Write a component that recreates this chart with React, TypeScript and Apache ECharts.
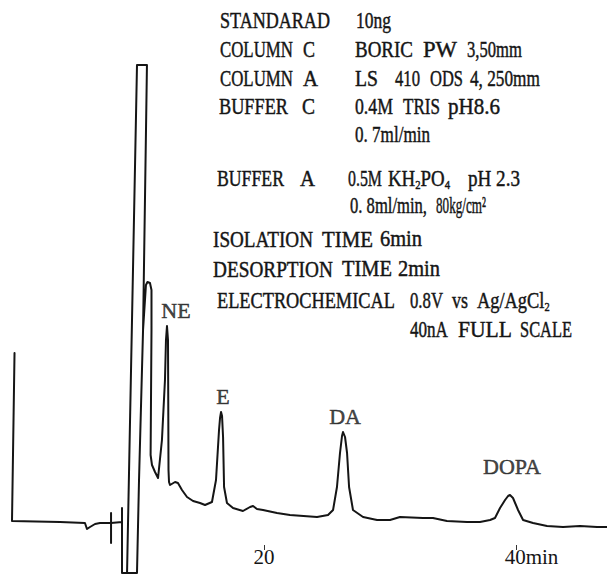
import { useEffect, useRef } from 'react';
import * as echarts from 'echarts';

// Detector trace: [retention time (min), response (chart divisions above baseline)]
const injectionAndSwitch: [number, number][] = [
  [0.2, 169], [0.0, 1], [3.81, 0], [5.79, -1], [5.95, -7], [6.19, -5], [6.59, -2],
  [6.98, -1], [7.86, -1], [7.86, 9], [7.86, -21], [7.86, -1], [8.73, 0], [8.73, 14], [8.73, -51],
];
const solventFront: [number, number][] = [
  [9.92, -51], [10.08, 42], [10.4, 192], [10.71, 457], [9.92, 457], [9.13, -51],
  [9.92, -51], [10.08, 42], [10.4, 192],
];
const shoulderAndNE: [number, number][] = [
  [10.63, 237], [10.75, 240], [10.95, 239], [11.07, 232], [11.07, 192], [11.0, 67],
  [11.11, 57], [11.35, 50], [11.59, 44], [11.9, 82], [12.14, 142], [12.22, 182],
  [12.3, 196], [12.38, 182], [12.4, 122], [12.42, 52], [12.46, 40], [12.54, 37],
  [12.94, 40], [13.17, 39], [13.49, 32], [13.89, 25], [14.37, 21], [14.92, 19],
  [15.32, 17], [15.87, 20],
];
const ePeak: [number, number][] = [
  [16.19, 42], [16.43, 92], [16.51, 104], [16.59, 110], [16.67, 106], [16.75, 85],
  [16.83, 35], [17.06, 19], [17.54, 14], [18.33, 11], [18.89, 15], [19.13, 16],
  [19.44, 13], [19.92, 12], [21.03, 9], [22.06, 7], [24.21, 5], [25.08, 7], [25.48, 12],
];
const daPeak: [number, number][] = [
  [25.79, 35], [26.03, 69], [26.19, 86], [26.27, 90], [26.43, 85], [26.59, 69],
  [26.75, 35], [27.06, 12], [27.86, 5], [28.97, 2], [30.0, 2], [30.79, 5], [32.62, 4],
  [33.41, 4], [34.52, 1], [36.11, 0], [37.14, 0], [37.94, 2], [38.33, 4],
];
const dopaPeak: [number, number][] = [
  [38.73, 14], [39.13, 22], [39.37, 26], [39.52, 27], [39.76, 24], [40.16, 12],
  [40.56, 2], [41.35, -1], [42.46, -4], [43.73, -5], [45.08, -4], [46.43, -5], [47.22, -5],
];

const peakNames = ['NE', 'E', 'DA', 'DOPA'];
const peakApex: [number, number][] = [[12.3, 196], [16.59, 110], [26.27, 90], [39.52, 27]];

const tickValues = [20, 40];
const tickLabels = ['20', '40min'];

const SERIF = '"Liberation Serif", "Times New Roman", serif';
const INK = '#151515';
const COND_SIZE = 23;

// width of a plain string at the conditions-block font size
let measureCtx: CanvasRenderingContext2D | null = null;
function textWidth(text: string): number {
  if (!measureCtx) measureCtx = document.createElement('canvas').getContext('2d');
  if (!measureCtx) return text.length * COND_SIZE * 0.5;
  measureCtx.font = `${COND_SIZE}px ${SERIF}`;
  return measureCtx.measureText(text).width;
}

// one word of the condensed conditions block, squeezed to the given width
function word(x: number, y: number, text: string, width: number | null, rich?: Record<string, any>, sx = 0.8) {
  const scaleX = width ? width / textWidth(text) : sx;
  return {
    type: 'text',
    x,
    y,
    scaleX,
    silent: true,
    style: {
      text,
      fill: INK,
      stroke: INK,
      lineWidth: 0.45,
      font: `${COND_SIZE}px ${SERIF}`,
      fontFamily: SERIF,
      fontSize: COND_SIZE,
      textAlign: 'left',
      textVerticalAlign: 'middle',
      align: 'left',
      verticalAlign: 'middle',
      rich,
    },
  };
}

const subRich = {
  s: { fontSize: 13, fontFamily: SERIF, fill: INK, verticalAlign: 'bottom', padding: [0, 0, -2, 0] },
};

export default function App() {
  const ref = useRef<HTMLDivElement>(null);

  useEffect(() => {
    const chart = echarts.init(ref.current!, null, { renderer: 'svg' });
    const trace = [
      ...injectionAndSwitch,
      ...solventFront,
      ...shoulderAndNE,
      ...ePeak,
      ...daPeak,
      ...dopaPeak,
    ];

    chart.setOption({
      animation: false,
      backgroundColor: '#ffffff',
      // baseline (response 0) sits at y = 522; the time axis runs along y = 545
      grid: { left: 12, right: 0, top: 62, bottom: 30, containLabel: false },
      xAxis: {
        type: 'value',
        min: 0,
        max: 47.22,
        position: 'bottom',
        axisLine: { show: false, onZero: false },
        splitLine: { show: false },
        axisTick: {
          show: true,
          customValues: tickValues,
          length: 5,
          lineStyle: { color: '#333', width: 1 },
        },
        axisLabel: {
          customValues: tickValues,
          margin: 1,
          color: INK,
          fontFamily: SERIF,
          fontSize: 21,
          formatter: (v: number) => {
            const label = tickLabels[tickValues.indexOf(v)] ?? '';
            const unit = label.replace(/^[0-9]+/, '');
            const num = label.slice(0, label.length - unit.length);
            return unit ? `{pad|}${num}{u|${unit}}` : num;
          },
          rich: {
            pad: { width: 31 },
            u: { fontFamily: SERIF, fontSize: 21, color: INK },
          },
        },
      },
      yAxis: {
        type: 'value',
        min: -23,
        max: 460,
        show: false,
      },
      series: [
        {
          name: 'detector',
          type: 'line',
          data: trace,
          showSymbol: false,
          symbol: 'none',
          smooth: false,
          clip: false,
          lineStyle: { color: INK, width: 2, join: 'round', cap: 'round' },
          z: 2,
        },
        {
          name: 'peaks',
          type: 'scatter',
          symbolSize: 0,
          data: peakApex.map((p, i) => ({
            value: p,
            name: peakNames[i],
            label: {
              offset: i === 0 ? [9, 0] : [2, 0],
              distance: i === 3 ? 18 : 5,
            },
          })),
          label: {
            show: true,
            position: 'top',
            formatter: (p: any) => p.name,
            color: INK,
            fontFamily: SERIF,
            fontSize: 22,
            textBorderColor: INK,
            textBorderWidth: 0.5,
          },
          silent: true,
          z: 3,
        },
      ],
      graphic: [
        word(220, 20, 'STANDARAD', 110),
        word(356, 20, '10ng', 35),

        word(220, 49, 'COLUMN', 73),
        word(303, 49, 'C', 12),
        word(355, 49, 'BORIC', 58),
        word(423, 49, 'PW', 34),
        word(467, 49, '3,50mm', 55),

        word(220, 78, 'COLUMN', 73),
        word(303, 78, 'A', 15),
        word(355, 78, 'LS', 23),
        word(395, 78, '410', 25),
        word(430, 78, 'ODS', 33),
        word(470, 78, '4, 250mm', 70),

        word(219, 106, 'BUFFER', 69),
        word(302, 106, 'C', 13),
        word(355, 106, '0.4M', 38),
        word(403, 106, 'TRIS', 37),
        word(448, 106, 'pH8.6', 52),
        word(355, 134, '0. 7ml/min', 75),

        word(217, 178, 'BUFFER', 67),
        word(300, 178, 'A', 15),
        word(348, 178, '0.5M', 34),
        word(388, 178, 'KH{s|2}PO{s|4}', null, subRich, 0.82),
        word(468, 178, 'pH 2.3', 52),
        word(350, 205, '0. 8ml/min,', 77),
        word(436, 205, '80kg/cm²', 50),

        word(213, 239, 'ISOLATION', 100),
        word(322, 239, 'TIME', 51),
        word(380, 239, '6min', 42),

        word(213, 269, 'DESORPTION', 120),
        word(342, 269, 'TIME', 50),
        word(398, 269, '2min', 42),

        word(217, 300, 'ELECTROCHEMICAL', 178),
        word(410, 300, '0.8V', 33),
        word(452, 300, 'vs', 16),
        word(477, 300, 'Ag/AgCl{s|2}', null, subRich, 0.8),

        word(410, 329, '40nA', 38),
        word(458, 329, 'FULL', 54),
        word(520, 329, 'SCALE', 52),
      ],
    });

    return () => chart.dispose();
  }, []);

  return (
    <div
      ref={ref}
      style={{ position: 'absolute', left: 0, top: 0, width: 607, height: 575, background: '#fff' }}
    />
  );
}
